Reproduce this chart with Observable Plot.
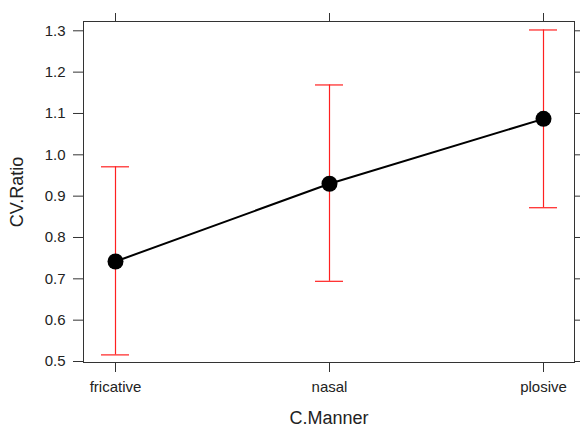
<!DOCTYPE html>
<html>
<head>
<meta charset="utf-8">
<script src="https://cdn.jsdelivr.net/npm/d3@7"></script>
<script src="https://cdn.jsdelivr.net/npm/@observablehq/plot@0.6"></script>
<style>
  html, body { margin: 0; padding: 0; background: #fff; }
  svg { display: block; }
</style>
</head>
<body>
<div id="chart"></div>
<script>
const categories = ["fricative", "nasal", "plosive"];
const means = [0.742, 0.930, 1.087];
const lower = [0.516, 0.694, 0.872];
const upper = [0.971, 1.169, 1.302];
const yTicks = [0.5, 0.6, 0.7, 0.8, 0.9, 1.0, 1.1, 1.2, 1.3];

const data = categories.map((c, i) => ({manner: c, mean: means[i], lo: lower[i], hi: upper[i]}));

const font = "'Liberation Sans', Arial, Helvetica, sans-serif";
const axisColor = "#333";
const red = "#ff2020";

const chart = Plot.plot({
  width: 580,
  height: 426,
  marginLeft: 83,
  marginRight: 6,
  marginTop: 21,
  marginBottom: 64,
  style: {fontFamily: font, fontSize: "15px", color: "#222", background: "#fff"},
  x: {type: "band", domain: categories, paddingInner: 0.87, paddingOuter: 0.077},
  y: {domain: [0.4976, 1.3225]},
  marks: [
    Plot.frame({stroke: axisColor, strokeWidth: 1}),
    Plot.axisY({anchor: "left", ticks: yTicks, tickFormat: d3.format(".1f"), tickSize: 10, tickPadding: 8,
      stroke: axisColor, fontSize: 15, label: "CV.Ratio", labelAnchor: "center", labelArrow: "none", labelOffset: 73}),
    Plot.axisY({anchor: "right", ticks: yTicks, tickFormat: () => "", tickSize: 8, stroke: axisColor, label: null}),
    Plot.axisX({anchor: "bottom", tickSize: 10, tickPadding: 9, stroke: axisColor, fontSize: 15,
      label: "C.Manner", labelAnchor: "center", labelArrow: "none", labelOffset: 61}),
    Plot.axisX({anchor: "top", tickSize: 9, tickFormat: () => "", stroke: axisColor, label: null}),
    Plot.ruleX(data, {x: "manner", y1: "lo", y2: "hi", stroke: red, strokeWidth: 1.2}),
    Plot.tickY(data, {x: "manner", y: "hi", stroke: red, strokeWidth: 1.2}),
    Plot.tickY(data, {x: "manner", y: "lo", stroke: red, strokeWidth: 1.2}),
    Plot.line(data, {x: "manner", y: "mean", stroke: "#000", strokeWidth: 2}),
    Plot.dot(data, {x: "manner", y: "mean", r: 8, fill: "#000", stroke: "none"})
  ]
});

chart.querySelectorAll("g[aria-label='y-axis label'] text, g[aria-label='x-axis label'] text").forEach(t => {
  t.setAttribute("font-size", "18");
  t.style.fontSize = "18px";
});

document.getElementById("chart").appendChild(chart);
</script>
</body>
</html>
